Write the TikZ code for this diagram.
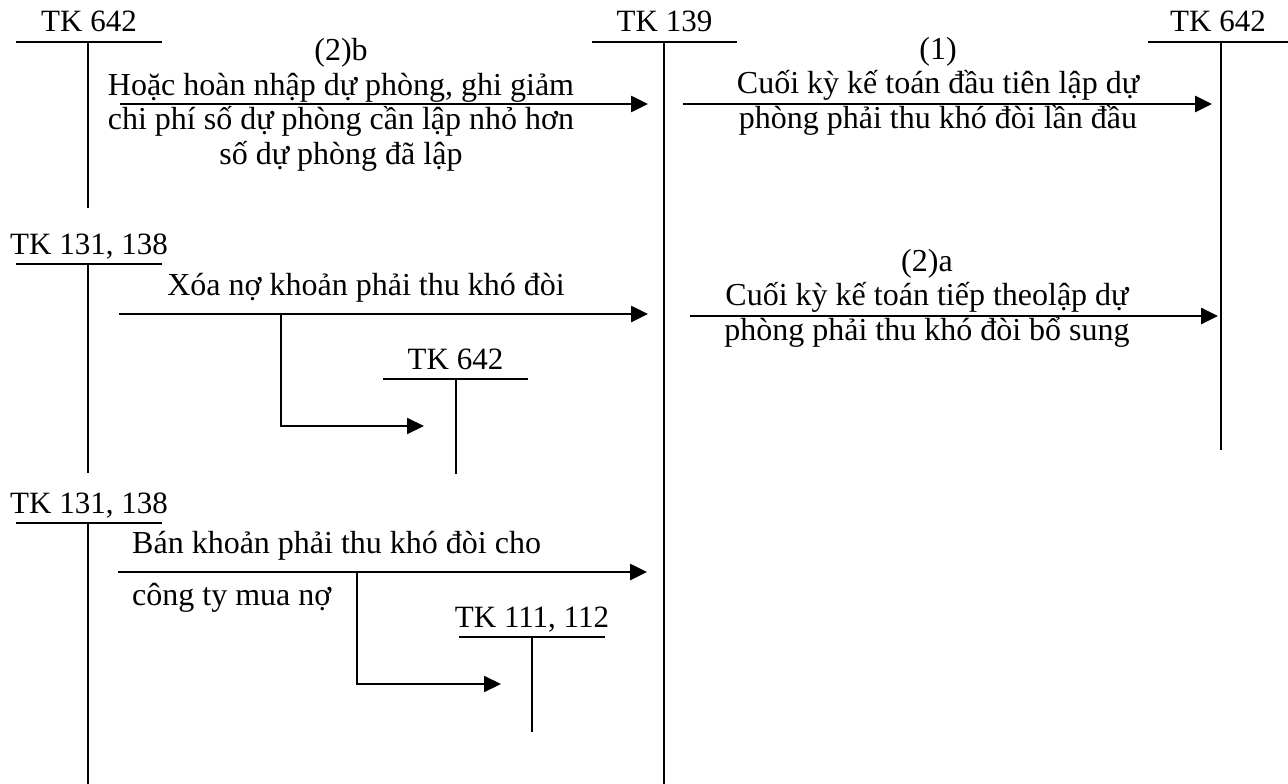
\documentclass[tikz,border=0pt]{standalone}
\usepackage{fontspec}
\setmainfont{Liberation Serif}
\usepackage{xcolor}
\usepackage{tikz}
\usetikzlibrary{arrows.meta,calc}
\definecolor{inkmain}{HTML}{000000}
\tikzset{every node/.append style={font=\fontsize{31}{34.5}\selectfont,inner sep=0pt},
  acct/.style={anchor=base,inkmain},
  tline/.style={inkmain,line width=1.7pt},
  tpost/.style={inkmain,line width=1.3pt},
  flow/.style={inkmain,line width=2.6pt,-{Triangle[length=17pt,width=16pt]}},
  lbl/.style={anchor=base,align=center,inkmain,font=\fontsize{32}{34.5}\selectfont},
  lblw/.style={anchor=base west,inkmain,font=\fontsize{32}{34.5}\selectfont}}

\begin{document}
\begin{tikzpicture}[x=1pt,y=-1pt]
  \useasboundingbox (0,0) rectangle (1288,784);
  % T accounts: name / bar left / bar right / post / bar y / post end / title
  \foreach \nm/\lx/\rx/\px/\by/\ey/\txt in {
      tkcpa/16/162/88/42/208/{TK 642},
      tkdp/592/737/664/42/784/{TK 139},
      tkcpb/1148/1288/1221/42/450/{TK 642},
      tkpta/16/162/88/264/473/{TK 131, 138},
      tkcpc/383/528/456/379/474/{TK 642},
      tkptb/16/162/88/523/784/{TK 131, 138},
      tktien/459/605/532/637/732/{TK 111, 112}} {
    \node[acct] (\nm) at ({(\lx+\rx)/2},\by-10) {\txt};
    \draw[tline] (\lx,\by) -- (\rx,\by);
    \draw[tpost] (\px,\by) -- (\px,\ey);
  }
  % arrow ends
  \coordinate (hns) at (120,104);  \coordinate (hne) at (648,104);
  \coordinate (lds) at (683,104);  \coordinate (lde) at (1212,104);
  \coordinate (xns) at (119,314);  \coordinate (xne) at (648,314);
  \coordinate (bss) at (690,316);  \coordinate (bse) at (1218,316);
  \coordinate (bns) at (118,572);  \coordinate (bne) at (647,572);
  \coordinate (xcs) at (281,314);  \coordinate (xce) at (424,426);
  \coordinate (bts) at (357,572);  \coordinate (bte) at (501,684);
  \draw[flow] (hns) -- (hne);
  \draw[flow] (lds) -- (lde);
  \draw[flow] (xns) -- (xne);
  \draw[flow] (bss) -- (bse);
  \draw[flow] (bns) -- (bne);
  \draw[flow,line width=2.1pt] (xcs) |- (xce);
  \draw[flow,line width=2.1pt] (bts) |- (bte);
  % labels (base = last line)
  \node[lbl] (hoan) at (341,164)
    {(2)b\\Hoặc hoàn nhập dự phòng, ghi giảm\\chi phí số dự phòng cần lập nhỏ hơn\\số dự phòng đã lập};
  \node[lbl] (lapdau) at (938,128)
    {(1)\\Cuối kỳ kế toán đầu tiên lập dự\\phòng phải thu khó đòi lần đầu};
  \node[lbl] (lapbs) at (927,340)
    {(2)a\\Cuối kỳ kế toán tiếp theolập dự\\phòng phải thu khó đòi bổ sung};
  \node[lbl] (xoano) at (366,295) {Xóa nợ khoản phải thu khó đòi};
  \node[lblw] (ban) at (132,553) {Bán khoản phải thu khó đòi cho};
  \node[lblw] (muano) at (132,605) {công ty mua nợ};
\end{tikzpicture}
\end{document}
